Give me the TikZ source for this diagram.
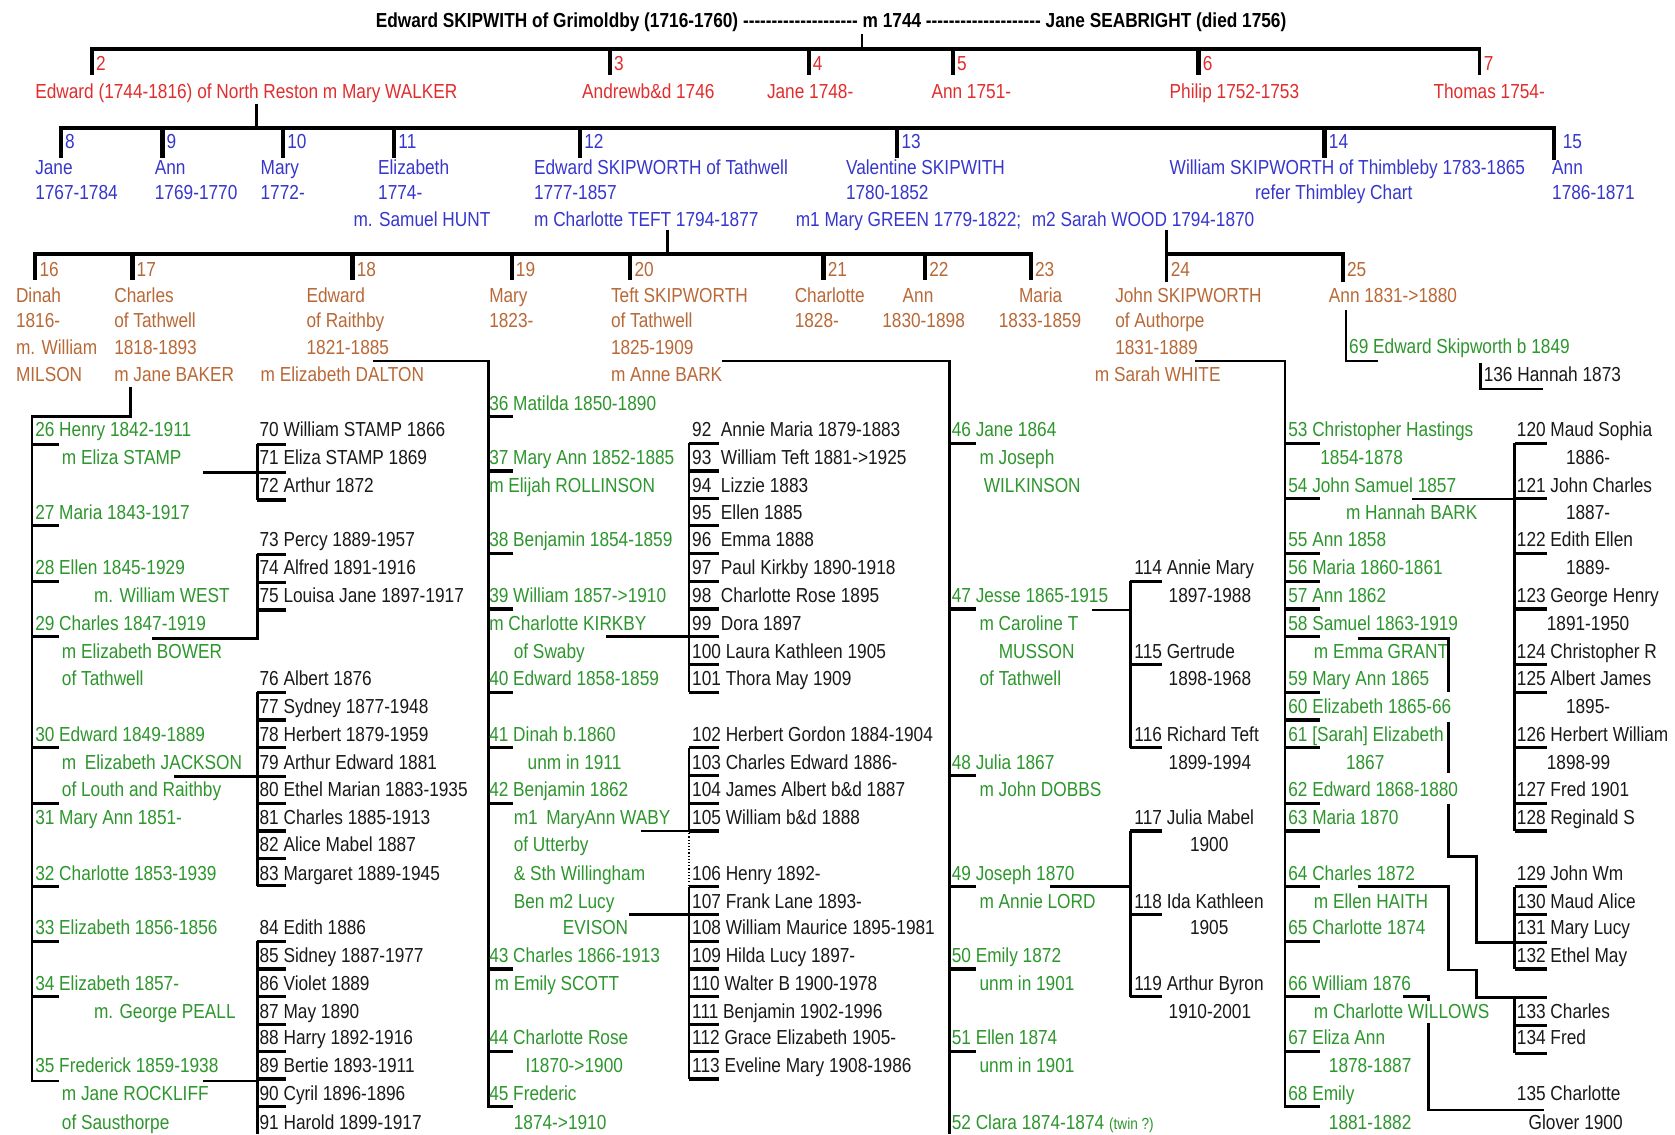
\documentclass[tikz,border=0pt]{standalone}
\usepackage{fontspec}
\setmainfont[Ligatures=TeXOff,FakeStretch=0.85]{Liberation Sans}
\definecolor{cRed}{RGB}{225,45,45}
\definecolor{cBlue}{RGB}{55,55,205}
\definecolor{cBrown}{RGB}{185,105,55}
\definecolor{cGreen}{RGB}{45,150,45}
\definecolor{cBlack}{RGB}{25,25,25}
\newcount\tcnt
\newcommand\Tx[4]{\global\advance\tcnt by 1\relax\node[txt,#1] (t\the\tcnt) at (#2,#3) {#4};}
\newcommand\Ticks[3]{\foreach \yy in {#3} \draw[ctk] (#1,\yy) -- ++(#2,0);}
\begin{document}
\begin{tikzpicture}[x=1pt,y=-1pt,font=\fontsize{19}{23}\selectfont,
  txt/.style={anchor=base west,inner sep=0pt,outer sep=0pt,yshift=-7pt},
  cA/.style={text=cRed}, cB/.style={text=cBlue}, cC/.style={text=cBrown},
  cD/.style={text=cGreen}, cE/.style={text=cBlack},
  bar/.style={line width=3.5pt,line join=miter},
  gtk/.style={line width=4pt},
  conn/.style={line width=2.5pt,line join=miter},
  ctk/.style={line width=3pt}]
\fill[white] (0,0) rectangle (1568,1062);
\useasboundingbox (0,0) rectangle (1568,1062);
% title
\node[anchor=base,inner sep=0pt,font=\bfseries\fontsize{19}{23}\selectfont] (title) at (778,26)
 {Edward SKIPWITH of Grimoldby (1716-1760) -------------------- m 1744 -------------------- Jane SEABRIGHT (died 1756)};
% ---------------- generation 2
\draw[conn] (807,32) -- (807,46);
\draw[bar] (86,70) -- (86,46) -- (1385,46) -- (1385,70);
\foreach \x in {571,757,892,1122} \draw[gtk] (\x,46) -- (\x,70);
\foreach \x/\n in {86/2,571/3,757/4,892/5,1122/6,1385/7} \node[txt,cA] (n\n) at (\x+4,59) {\n};
\Tx{cA}{33}{85}{Edward (1744-1816) of North Reston m Mary WALKER}
\Tx{cA}{545}{85}{Andrewb\&d 1746}
\Tx{cA}{718}{85}{Jane 1748-}
\Tx{cA}{872}{85}{Ann 1751-}
\Tx{cA}{1095}{85}{Philip 1752-1753}
\Tx{cA}{1342}{85}{Thomas 1754-}
% ---------------- generation 3
\draw[conn] (240,97) -- (240,120);
\draw[bar] (57,148) -- (57,120) -- (1455,120) -- (1455,150);
\foreach \x in {152,265,369,543,840,1240} \draw[gtk] (\x,120) -- (\x,148);
\foreach \x/\n in {57/8,152/9,265/10,369/11,543/12,840/13,1240/14,1459/15} \node[txt,cB] (n\n) at (\x+4,132) {\n};
\Tx{cB}{33}{156}{Jane}\Tx{cB}{33}{180}{1767-1784}
\Tx{cB}{145}{156}{Ann}\Tx{cB}{145}{180}{1769-1770}
\Tx{cB}{244}{156}{Mary}\Tx{cB}{244}{180}{1772-}
\Tx{cB}{354}{156}{Elizabeth}\Tx{cB}{354}{180}{1774-}\Tx{cB}{331}{205}{m. Samuel HUNT}
\Tx{cB}{500}{156}{Edward SKIPWORTH of Tathwell}\Tx{cB}{500}{180}{1777-1857}\Tx{cB}{500}{205}{m Charlotte TEFT 1794-1877}
\Tx{cB}{792}{156}{Valentine SKIPWITH}\Tx{cB}{792}{180}{1780-1852}\Tx{cB}{745}{205}{m1 Mary GREEN 1779-1822;\hspace{10pt}m2 Sarah WOOD 1794-1870}
\Tx{cB}{1095}{156}{William SKIPWORTH of Thimbleby 1783-1865}\Tx{cB}{1175}{180}{refer Thimbley Chart}
\Tx{cB}{1453}{156}{Ann}\Tx{cB}{1453}{180}{1786-1871}
% ---------------- generation 4
\draw[conn] (625,215) -- (625,238);
\draw[bar] (33,262) -- (33,238) -- (965,238) -- (965,262);
\foreach \x in {124,330,479,590,771,866} \draw[gtk] (\x,238) -- (\x,262);
\draw[bar] (1092,215) -- (1092,264);
\draw[bar] (1092,238) -- (1257,238) -- (1257,264);
\foreach \x/\n in {33/16,124/17,330/18,479/19,590/20,771/21,866/22,965/23,1092/24,1257/25} \node[txt,cC] (n\n) at (\x+4,252) {\n};
\Tx{cC}{15}{276}{Dinah}\Tx{cC}{15}{300}{1816-}\Tx{cC}{15}{325}{m. William}\Tx{cC}{15}{350}{MILSON}
\Tx{cC}{107}{276}{Charles}\Tx{cC}{107}{300}{of Tathwell}\Tx{cC}{107}{325}{1818-1893}\Tx{cC}{107}{350}{m Jane BAKER}
\Tx{cC}{287}{276}{Edward}\Tx{cC}{287}{300}{of Raithby}\Tx{cC}{287}{325}{1821-1885}\Tx{cC}{244}{350}{m Elizabeth DALTON}
\Tx{cC}{458}{276}{Mary}\Tx{cC}{458}{300}{1823-}
\Tx{cC}{572}{276}{Teft SKIPWORTH}\Tx{cC}{572}{300}{of Tathwell}\Tx{cC}{572}{325}{1825-1909}\Tx{cC}{572}{350}{m Anne BARK}
\Tx{cC}{744}{276}{Charlotte}\Tx{cC}{744}{300}{1828-}
\Tx{cC}{845}{276}{Ann}\Tx{cC}{826}{300}{1830-1898}
\Tx{cC}{954}{276}{Maria}\Tx{cC}{935}{300}{1833-1859}
\Tx{cC}{1044}{276}{John SKIPWORTH}\Tx{cC}{1044}{300}{of Authorpe}\Tx{cC}{1044}{325}{1831-1889}\Tx{cC}{1025}{350}{m Sarah WHITE}
\Tx{cC}{1244}{276}{Ann 1831->1880}
% ---------------- Ann 25 line
\draw[conn] (1260,290) -- (1260,338) -- (1290,338);
\Tx{cD}{1263}{324}{69 Edward Skipworth b 1849}
\draw[conn] (1386,340) -- (1386,364) -- (1444,364);
\Tx{cE}{1389}{350}{136 Hannah 1873}
% ---------------- children of 17 Charles
\draw[conn] (122,362) -- (122,390) -- (30,390) -- (30,1012) -- (55,1012);
\Ticks{30}{25}{416,492,544,596,700,752,830,881,933}
\Tx{cD}{33}{402}{26 Henry 1842-1911}\Tx{cD}{58}{428}{m Eliza STAMP}
\Tx{cD}{33}{479}{27 Maria 1843-1917}
\Tx{cD}{33}{531}{28 Ellen 1845-1929}\Tx{cD}{88}{557}{m. William WEST}
\Tx{cD}{33}{583}{29 Charles 1847-1919}\Tx{cD}{58}{609}{m Elizabeth BOWER}\Tx{cD}{58}{635}{of Tathwell}
\Tx{cD}{33}{687}{30 Edward 1849-1889}\Tx{cD}{58}{713}{m\hspace{8pt}Elizabeth JACKSON}\Tx{cD}{58}{739}{of Louth and Raithby}
\Tx{cD}{33}{765}{31 Mary Ann 1851-}
\Tx{cD}{33}{817}{32 Charlotte 1853-1939}
\Tx{cD}{33}{868}{33 Elizabeth 1856-1856}
\Tx{cD}{33}{920}{34 Elizabeth 1857-}\Tx{cD}{88}{946}{m. George PEALL}
\Tx{cD}{33}{997}{35 Frederick 1859-1938}\Tx{cD}{58}{1023}{m Jane ROCKLIFF}\Tx{cD}{58}{1050}{of Sausthorpe}
% grandchildren column x=243
\draw[conn] (190,442) -- (241,442);
\draw[conn] (241,416) -- (241,468);
\Ticks{241}{27}{416,442,468}
\draw[conn] (142,598) -- (241,598) -- (241,519);
\Ticks{241}{27}{519,545,571}
\draw[conn] (163,727) -- (241,727);
\draw[conn] (241,648) -- (241,829);
\Ticks{241}{27}{648,674,700,727,752,778,804,829}
\draw[conn] (190,1012) -- (241,1012);
\draw[conn] (241,881) -- (241,1062);
\Ticks{241}{27}{881,907,933,959,984,1010,1036}
\Tx{cE}{243}{402}{70 William STAMP 1866}
\Tx{cE}{243}{428}{71 Eliza STAMP 1869}
\Tx{cE}{243}{454}{72 Arthur 1872}
\Tx{cE}{243}{505}{73 Percy 1889-1957}
\Tx{cE}{243}{531}{74 Alfred 1891-1916}
\Tx{cE}{243}{557}{75 Louisa Jane 1897-1917}
\Tx{cE}{243}{635}{76 Albert 1876}
\Tx{cE}{243}{661}{77 Sydney 1877-1948}
\Tx{cE}{243}{687}{78 Herbert 1879-1959}
\Tx{cE}{243}{713}{79 Arthur Edward 1881}
\Tx{cE}{243}{739}{80 Ethel Marian 1883-1935}
\Tx{cE}{243}{765}{81 Charles 1885-1913}
\Tx{cE}{243}{790}{82 Alice Mabel 1887}
\Tx{cE}{243}{817}{83 Margaret 1889-1945}
\Tx{cE}{243}{868}{84 Edith 1886}
\Tx{cE}{243}{894}{85 Sidney 1887-1977}
\Tx{cE}{243}{920}{86 Violet 1889}
\Tx{cE}{243}{946}{87 May 1890}
\Tx{cE}{243}{971}{88 Harry 1892-1916}
\Tx{cE}{243}{997}{89 Bertie 1893-1911}
\Tx{cE}{243}{1023}{90 Cyril 1896-1896}
\Tx{cE}{243}{1050}{91 Harold 1899-1917}
% ---------------- children of 18 Edward of Raithby
\draw[conn] (349,338) -- (457,338) -- (457,1036) -- (480,1036);
\Ticks{457}{23}{390,441,518,570,648,700,752,907,984}
\Tx{cD}{458}{377}{36 Matilda 1850-1890}
\Tx{cD}{458}{428}{37 Mary Ann 1852-1885}\Tx{cD}{458}{454}{m Elijah ROLLINSON}
\Tx{cD}{458}{505}{38 Benjamin 1854-1859}
\Tx{cD}{458}{557}{39 William 1857->1910}\Tx{cD}{458}{583}{m Charlotte KIRKBY}\Tx{cD}{481}{609}{of Swaby}
\Tx{cD}{458}{635}{40 Edward 1858-1859}
\Tx{cD}{458}{687}{41 Dinah b.1860}\Tx{cD}{494}{713}{unm in 1911}
\Tx{cD}{458}{739}{42 Benjamin 1862}\Tx{cD}{481}{765}{m1\hspace{8pt}MaryAnn WABY}\Tx{cD}{481}{790}{of Utterby}
\Tx{cD}{481}{817}{\& Sth Willingham}\Tx{cD}{481}{843}{Ben m2 Lucy}\Tx{cD}{527}{868}{EVISON}
\Tx{cD}{458}{894}{43 Charles 1866-1913}\Tx{cD}{463}{920}{m Emily SCOTT}
\Tx{cD}{458}{971}{44 Charlotte Rose}\Tx{cD}{492}{997}{I1870->1900}
\Tx{cD}{458}{1023}{45 Frederic}\Tx{cD}{481}{1050}{1874->1910}
% grandchildren x=648
\draw[conn] (567,596) -- (645,596);
\draw[conn] (645,415) -- (645,648);
\Ticks{645}{28}{415,441,467,492,518,544,570,596,622,648}
\draw[conn] (600,778) -- (645,778);
\draw[conn] (645,700) -- (645,778);
\Ticks{645}{28}{700,726,752,778}
\draw[line width=1pt,dotted] (645,780) -- (645,830);
\draw[conn] (589,856) -- (645,856);
\draw[conn] (645,830) -- (645,1010);
\Ticks{645}{28}{830,856,881,907,933,959,984,1010}
\Tx{cE}{648}{402}{92 \ Annie Maria 1879-1883}
\Tx{cE}{648}{428}{93 \ William Teft 1881->1925}
\Tx{cE}{648}{454}{94 \ Lizzie 1883}
\Tx{cE}{648}{479}{95 \ Ellen 1885}
\Tx{cE}{648}{505}{96 \ Emma 1888}
\Tx{cE}{648}{531}{97 \ Paul Kirkby 1890-1918}
\Tx{cE}{648}{557}{98 \ Charlotte Rose 1895}
\Tx{cE}{648}{583}{99 \ Dora 1897}
\Tx{cE}{648}{609}{100 Laura Kathleen 1905}
\Tx{cE}{648}{635}{101 Thora May 1909}
\Tx{cE}{648}{687}{102 Herbert Gordon 1884-1904}
\Tx{cE}{648}{713}{103 Charles Edward 1886-}
\Tx{cE}{648}{739}{104 James Albert b\&d 1887}
\Tx{cE}{648}{765}{105 William b\&d 1888}
\Tx{cE}{648}{817}{106 Henry 1892-}
\Tx{cE}{648}{843}{107 Frank Lane 1893-}
\Tx{cE}{648}{868}{108 William Maurice 1895-1981}
\Tx{cE}{648}{894}{109 Hilda Lucy 1897-}
\Tx{cE}{648}{920}{110 Walter B 1900-1978}
\Tx{cE}{648}{946}{111 Benjamin 1902-1996}
\Tx{cE}{648}{971}{112 Grace Elizabeth 1905-}
\Tx{cE}{648}{997}{113 Eveline Mary 1908-1986}
% ---------------- children of 20 Teft
\draw[conn] (676,338) -- (889,338) -- (889,1062);
\Ticks{889}{25}{415,570,726,830,907,984}
\Tx{cD}{891}{402}{46 Jane 1864}\Tx{cD}{917}{428}{m Joseph}\Tx{cD}{921}{454}{WILKINSON}
\Tx{cD}{891}{557}{47 Jesse 1865-1915}\Tx{cD}{917}{583}{m Caroline T}\Tx{cD}{935}{609}{MUSSON}\Tx{cD}{917}{635}{of Tathwell}
\Tx{cD}{891}{713}{48 Julia 1867}\Tx{cD}{917}{739}{m John DOBBS}
\Tx{cD}{891}{817}{49 Joseph 1870}\Tx{cD}{917}{843}{m Annie LORD}
\Tx{cD}{891}{894}{50 Emily 1872}\Tx{cD}{917}{920}{unm in 1901}
\Tx{cD}{891}{971}{51 Ellen 1874}\Tx{cD}{917}{997}{unm in 1901}
\Tx{cD}{891}{1050}{52 Clara 1874-1874 {\fontsize{15}{18}\selectfont (twin ?)}}
% grandchildren x=1062
\draw[conn] (1022,571) -- (1058,571);
\draw[conn] (1058,544) -- (1058,700);
\Ticks{1058}{30}{544,622,700}
\draw[conn] (983,830) -- (1058,830);
\draw[conn] (1058,778) -- (1058,933);
\Ticks{1058}{30}{778,856,933}
\Tx{cE}{1062}{531}{114 Annie Mary}\Tx{cE}{1094}{557}{1897-1988}
\Tx{cE}{1062}{609}{115 Gertrude}\Tx{cE}{1094}{635}{1898-1968}
\Tx{cE}{1062}{687}{116 Richard Teft}\Tx{cE}{1094}{713}{1899-1994}
\Tx{cE}{1062}{765}{117 Julia Mabel}\Tx{cE}{1114}{790}{1900}
\Tx{cE}{1062}{843}{118 Ida Kathleen}\Tx{cE}{1114}{868}{1905}
\Tx{cE}{1062}{920}{119 Arthur Byron}\Tx{cE}{1094}{946}{1910-2001}
% ---------------- children of 24 John
\draw[conn] (1119,338) -- (1203,338) -- (1203,1036) -- (1236,1036);
\Ticks{1203}{33}{415,467,518,544,570,596,648,674,700,752,778,830,881,933,984}
\Tx{cD}{1206}{402}{53 Christopher Hastings}\Tx{cD}{1236}{428}{1854-1878}
\Tx{cD}{1206}{454}{54 John Samuel 1857}\Tx{cD}{1260}{479}{m Hannah BARK}
\Tx{cD}{1206}{505}{55 Ann 1858}
\Tx{cD}{1206}{531}{56 Maria 1860-1861}
\Tx{cD}{1206}{557}{57 Ann 1862}
\Tx{cD}{1206}{583}{58 Samuel 1863-1919}\Tx{cD}{1230}{609}{m Emma GRANT}
\Tx{cD}{1206}{635}{59 Mary Ann 1865}
\Tx{cD}{1206}{661}{60 Elizabeth 1865-66}
\Tx{cD}{1206}{687}{61 [Sarah] Elizabeth}\Tx{cD}{1260}{713}{1867}
\Tx{cD}{1206}{739}{62 Edward 1868-1880}
\Tx{cD}{1206}{765}{63 Maria 1870}
\Tx{cD}{1206}{817}{64 Charles 1872}\Tx{cD}{1230}{843}{m Ellen HAITH}
\Tx{cD}{1206}{868}{65 Charlotte 1874}
\Tx{cD}{1206}{920}{66 William 1876}\Tx{cD}{1230}{946}{m Charlotte WILLOWS}
\Tx{cD}{1206}{971}{67 Eliza Ann}\Tx{cD}{1244}{997}{1878-1887}
\Tx{cD}{1206}{1023}{68 Emily}\Tx{cD}{1244}{1050}{1881-1882}
% grandchildren x=1420
\draw[conn] (1322,467) -- (1418,467);
\draw[conn] (1418,415) -- (1418,778);
\Ticks{1418}{30}{415,467,518,570,622,648,700,752,778}
\draw[conn] (1271,598) -- (1356,598) -- (1356,648);
\draw[conn] (1356,676) -- (1356,724);
\draw[conn] (1356,753) -- (1356,802) -- (1382,802) -- (1382,882) -- (1418,882);
\draw[conn] (1418,830) -- (1418,907);
\Ticks{1418}{30}{830,856,882,907}
\draw[conn] (1271,830) -- (1356,830) -- (1356,908) -- (1382,908) -- (1382,934) -- (1418,934);
\draw[conn] (1418,934) -- (1418,986);
\Ticks{1418}{30}{934,960,986}
\draw[conn] (1313,933) -- (1337,933) -- (1337,937);
\draw[conn] (1337,958) -- (1337,1039) -- (1445,1039);
\Tx{cE}{1420}{402}{120 Maud Sophia}\Tx{cE}{1466}{428}{1886-}
\Tx{cE}{1420}{454}{121 John Charles}\Tx{cE}{1466}{479}{1887-}
\Tx{cE}{1420}{505}{122 Edith Ellen}\Tx{cE}{1466}{531}{1889-}
\Tx{cE}{1420}{557}{123 George Henry}\Tx{cE}{1448}{583}{1891-1950}
\Tx{cE}{1420}{609}{124 Christopher R}
\Tx{cE}{1420}{635}{125 Albert James}\Tx{cE}{1466}{661}{1895-}
\Tx{cE}{1420}{687}{126 Herbert William}\Tx{cE}{1448}{713}{1898-99}
\Tx{cE}{1420}{739}{127 Fred 1901}
\Tx{cE}{1420}{765}{128 Reginald S}
\Tx{cE}{1420}{817}{129 John Wm}
\Tx{cE}{1420}{843}{130 Maud Alice}
\Tx{cE}{1420}{868}{131 Mary Lucy}
\Tx{cE}{1420}{894}{132 Ethel May}
\Tx{cE}{1420}{946}{133 Charles}
\Tx{cE}{1420}{971}{134 Fred}
\Tx{cE}{1420}{1023}{135 Charlotte}\Tx{cE}{1431}{1050}{Glover 1900}
\end{tikzpicture}
\end{document}
